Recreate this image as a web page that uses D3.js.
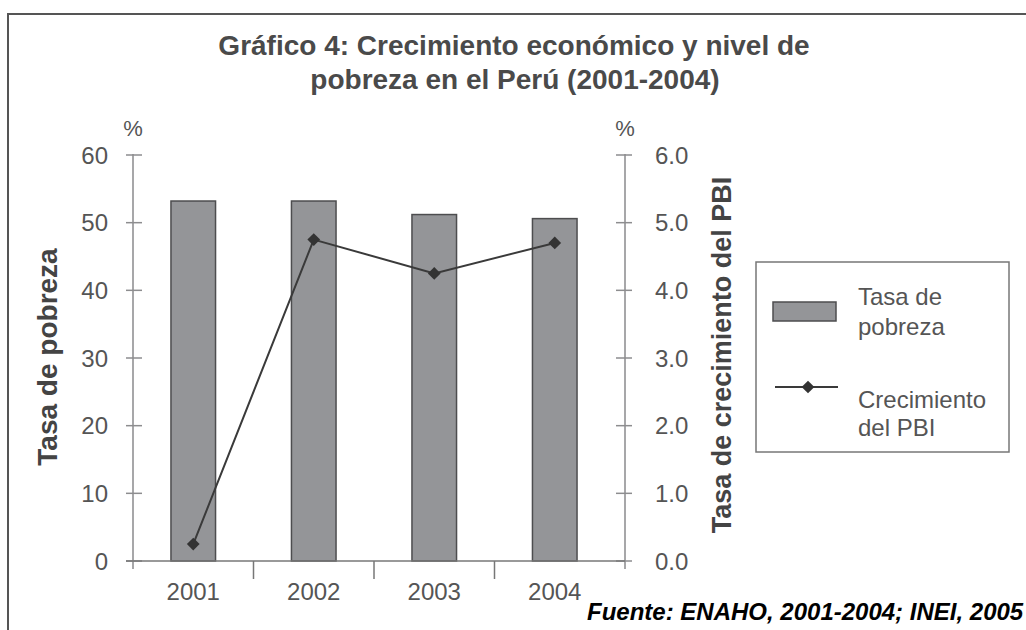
<!DOCTYPE html>
<html>
<head>
<meta charset="utf-8">
<script src="https://cdn.jsdelivr.net/npm/d3@7"></script>
<style>
  body { margin: 0; background: #fff; }
  text { font-family: "Liberation Sans", Arial, sans-serif; }
</style>
</head>
<body>
<svg id="chart" width="1026" height="630"></svg>
<script>
const years = ["2001", "2002", "2003", "2004"];
const pobreza = [53.2, 53.2, 51.2, 50.6];
const pbi = [0.25, 4.75, 4.25, 4.7];
const leftTicks = [0, 10, 20, 30, 40, 50, 60];
const rightTicks = [0, 1, 2, 3, 4, 5, 6];

const svg = d3.select("#chart");

// outer frame
svg.append("rect")
    .attr("x", 8).attr("y", 14)
    .attr("width", 1040).attr("height", 640)
    .attr("fill", "none")
    .attr("stroke", "#555")
    .attr("stroke-width", 2);

// title
const title = svg.append("text")
    .attr("text-anchor", "middle")
    .attr("font-size", 28)
    .attr("font-weight", "bold")
    .attr("fill", "#4a4a4a");
title.append("tspan").attr("x", 514).attr("y", 55).text("Gráfico 4: Crecimiento económico y nivel de");
title.append("tspan").attr("x", 515).attr("y", 89).text("pobreza en el Perú (2001-2004)");

const x = d3.scaleBand()
    .domain(years)
    .range([133, 615])
    .paddingInner(0.63)
    .paddingOuter(0.315);

const yLeft = d3.scaleLinear().domain([0, 60]).range([561, 155]);
const yRight = d3.scaleLinear().domain([0, 6]).range([561, 155]);

const leftX = 133;
const rightX = 625;

// bars
svg.selectAll(".bar")
    .data(years)
    .enter()
    .append("rect")
    .attr("class", "bar")
    .attr("x", d => x(d))
    .attr("y", (d, i) => yLeft(pobreza[i]))
    .attr("width", x.bandwidth())
    .attr("height", (d, i) => yLeft(0) - yLeft(pobreza[i]))
    .attr("fill", "#949598")
    .attr("stroke", "#4d4d4f")
    .attr("stroke-width", 1.5);

// left axis
svg.append("line")
    .attr("x1", leftX).attr("x2", leftX)
    .attr("y1", yLeft(60) - 1).attr("y2", 569)
    .attr("stroke", "#a7a7a9").attr("stroke-width", 2);
svg.selectAll(".ltick")
    .data(leftTicks)
    .enter()
    .append("line")
    .attr("x1", leftX - 7).attr("x2", leftX + 9)
    .attr("y1", d => yLeft(d)).attr("y2", d => yLeft(d))
    .attr("stroke", "#8d8d8f").attr("stroke-width", 1.5);
svg.selectAll(".llabel")
    .data(leftTicks)
    .enter()
    .append("text")
    .attr("x", 108)
    .attr("y", d => yLeft(d))
    .attr("dy", "0.36em")
    .attr("text-anchor", "end")
    .attr("font-size", 24)
    .attr("fill", "#555")
    .text(d => d);

// right axis
svg.append("line")
    .attr("x1", rightX).attr("x2", rightX)
    .attr("y1", yRight(6) - 1).attr("y2", 569)
    .attr("stroke", "#a7a7a9").attr("stroke-width", 2);
svg.selectAll(".rtick")
    .data(rightTicks)
    .enter()
    .append("line")
    .attr("x1", rightX - 9).attr("x2", rightX + 7)
    .attr("y1", d => yRight(d)).attr("y2", d => yRight(d))
    .attr("stroke", "#8d8d8f").attr("stroke-width", 1.5);
svg.selectAll(".rlabel")
    .data(rightTicks)
    .enter()
    .append("text")
    .attr("x", 655)
    .attr("y", d => yRight(d))
    .attr("dy", "0.36em")
    .attr("font-size", 24)
    .attr("fill", "#555")
    .text(d => d3.format(".1f")(d));

// x axis
svg.append("line")
    .attr("x1", leftX - 7).attr("x2", rightX)
    .attr("y1", yLeft(0)).attr("y2", yLeft(0))
    .attr("stroke", "#777").attr("stroke-width", 1.5);
svg.selectAll(".xsep")
    .data(years.slice(1))
    .enter()
    .append("line")
    .attr("x1", d => x(d) - x.step() * x.paddingOuter())
    .attr("x2", d => x(d) - x.step() * x.paddingOuter())
    .attr("y1", yLeft(0)).attr("y2", yLeft(0) + 18)
    .attr("stroke", "#777").attr("stroke-width", 1.5);
svg.selectAll(".xlabel")
    .data(years)
    .enter()
    .append("text")
    .attr("x", d => x(d) + x.bandwidth() / 2)
    .attr("y", 600)
    .attr("text-anchor", "middle")
    .attr("font-size", 24)
    .attr("fill", "#555")
    .text(d => d);

// % markers
svg.selectAll(".pct")
    .data([leftX, rightX])
    .enter()
    .append("text")
    .attr("x", d => d)
    .attr("y", 136)
    .attr("text-anchor", "middle")
    .attr("font-size", 22)
    .attr("fill", "#555")
    .text("%");

// axis titles
svg.append("text")
    .attr("transform", "translate(57,357) rotate(-90)")
    .attr("text-anchor", "middle")
    .attr("font-size", 28)
    .attr("font-weight", "bold")
    .attr("fill", "#444")
    .text("Tasa de pobreza");
svg.append("text")
    .attr("transform", "translate(731,355) rotate(-90)")
    .attr("text-anchor", "middle")
    .attr("font-size", 27)
    .attr("font-weight", "bold")
    .attr("fill", "#444")
    .text("Tasa de crecimiento del PBI");

// PBI line
const line = d3.line()
    .x((d, i) => x(years[i]) + x.bandwidth() / 2)
    .y(d => yRight(d));
svg.append("path")
    .datum(pbi)
    .attr("d", line)
    .attr("fill", "none")
    .attr("stroke", "#3a3a3a")
    .attr("stroke-width", 2);
const diamond = d3.symbol(d3.symbolSquare, 81);
svg.selectAll(".pt")
    .data(pbi)
    .enter()
    .append("path")
    .attr("d", diamond)
    .attr("transform", (d, i) => `translate(${x(years[i]) + x.bandwidth() / 2},${yRight(d)}) rotate(45)`)
    .attr("fill", "#333");

// legend
const legend = svg.append("g");
legend.append("rect")
    .attr("x", 756).attr("y", 262)
    .attr("width", 253).attr("height", 190)
    .attr("fill", "#fff")
    .attr("stroke", "#777")
    .attr("stroke-width", 1.5);
legend.append("rect")
    .attr("x", 773).attr("y", 302)
    .attr("width", 63).attr("height", 19)
    .attr("fill", "#949598")
    .attr("stroke", "#4d4d4f")
    .attr("stroke-width", 1.5);
legend.append("line")
    .attr("x1", 775).attr("x2", 838)
    .attr("y1", 387).attr("y2", 387)
    .attr("stroke", "#3a3a3a").attr("stroke-width", 2);
legend.append("path")
    .attr("d", diamond)
    .attr("transform", "translate(808,387) rotate(45)")
    .attr("fill", "#333");
const legendText = [
    ["Tasa de", 305], ["pobreza", 335],
    ["Crecimiento", 408], ["del PBI", 436]
];
legend.selectAll(".ltext")
    .data(legendText)
    .enter()
    .append("text")
    .attr("x", 858)
    .attr("y", d => d[1])
    .attr("font-size", 24)
    .attr("fill", "#555")
    .text(d => d[0]);

// source
svg.append("text")
    .attr("x", 587)
    .attr("y", 620)
    .attr("font-size", 24)
    .attr("font-weight", "bold")
    .attr("font-style", "italic")
    .attr("fill", "#000")
    .text("Fuente: ENAHO, 2001-2004; INEI, 2005");
</script>
</body>
</html>
